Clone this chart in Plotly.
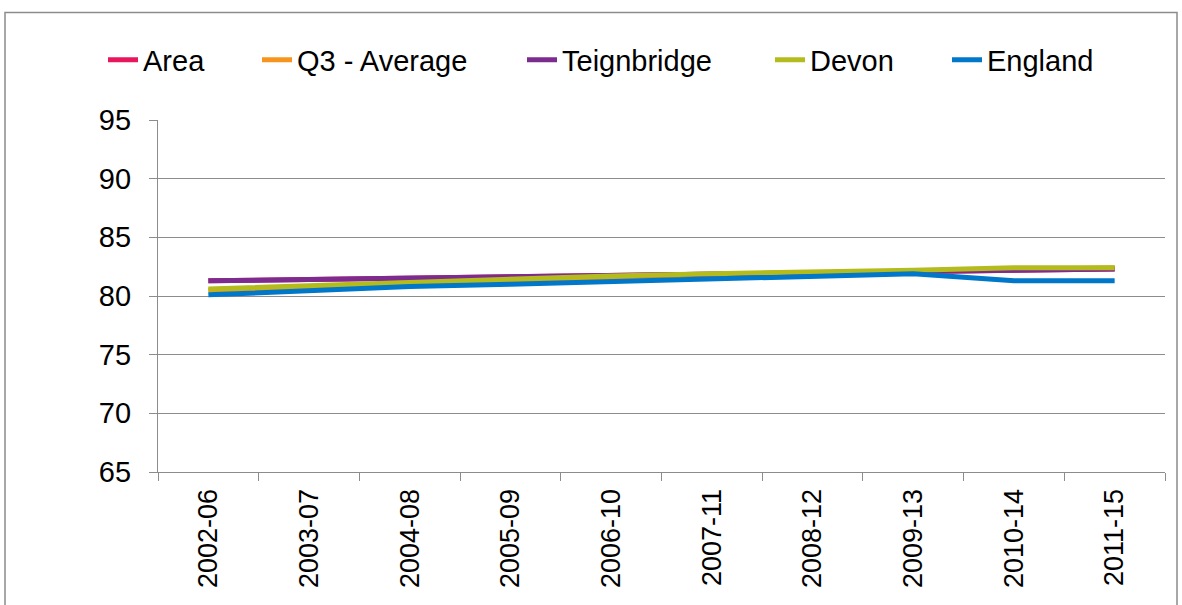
import plotly.graph_objects as go

categories = ["2002-06", "2003-07", "2004-08", "2005-09", "2006-10",
              "2007-11", "2008-12", "2009-13", "2010-14", "2011-15"]
area = [81.3, 81.4, 81.5, 81.7, 81.8, 81.9, 82.0, 82.1, 82.2, 82.3]
q3_average = [80.5, 80.8, 81.0, 81.2, 81.5, 81.7, 81.9, 82.1, 82.3, 82.4]
teignbridge = [81.3, 81.4, 81.5, 81.7, 81.8, 81.9, 82.0, 82.1, 82.2, 82.3]
devon = [80.6, 80.9, 81.1, 81.4, 81.7, 81.9, 82.0, 82.2, 82.4, 82.4]
england = [80.1, 80.5, 80.8, 81.0, 81.2, 81.4, 81.7, 81.9, 81.3, 81.3]

y_ticks = [65, 70, 75, 80, 85, 90, 95]

series = [
    ("Area", area, "#E8175D"),
    ("Q3 - Average", q3_average, "#F7941D"),
    ("Teignbridge", teignbridge, "#7B2C8E"),
    ("Devon", devon, "#B3BC1C"),
    ("England", england, "#0077C8"),
]

FONT = "Liberation Sans, Arial, sans-serif"
GRID = "#8C8C8C"

W, H = 1182, 605
L, R, T, B = 158, 17, 120, 133
pw, ph = W - L - R, H - T - B

# text start pixel of each legend entry
legend_text_x = [143, 297, 562, 810, 987]
LEGEND_Y = 60

fig = go.Figure()
legends = {}
for i, (name, vals, col) in enumerate(series):
    key = "legend" if i == 0 else f"legend{i + 1}"
    fig.add_trace(go.Scatter(x=categories, y=vals, name=name, mode="lines",
                             line=dict(color=col, width=5), legend=key))
    legends[key] = dict(orientation="h", x=(legend_text_x[i] - 40 - L) / pw,
                        xanchor="left", y=(H - B - LEGEND_Y) / ph, yanchor="middle",
                        font=dict(size=29, family=FONT), bgcolor="rgba(0,0,0,0)",
                        borderwidth=0)

fig.update_layout(
    width=W, height=H,
    margin=dict(l=L, r=R, t=T, b=B),
    paper_bgcolor="white", plot_bgcolor="white",
    font=dict(family=FONT, size=27, color="black"),
    showlegend=True,
    xaxis=dict(type="category", showgrid=False, showline=True, linecolor=GRID,
               linewidth=1.3, ticks="outside", ticklen=8, tickcolor=GRID,
               tickson="boundaries", tickangle=-90, tickfont=dict(size=27),
               ticklabelstandoff=5,
               range=[-0.5, len(categories) - 0.5]),
    yaxis=dict(range=[65, 95], tickvals=y_ticks, showgrid=True, gridcolor=GRID,
               gridwidth=1.3, showline=True, linecolor=GRID, linewidth=1.3,
               ticks="outside", ticklen=8, tickcolor=GRID, tickfont=dict(size=29),
               ticklabelstandoff=12, zeroline=False),
    shapes=[dict(type="rect", xref="paper", yref="paper",
                 x0=(5 - L) / pw, x1=(1177 - L) / pw,
                 y0=(H - B - 640) / ph, y1=(H - B - 12.5) / ph,
                 line=dict(color="#8C8C8C", width=1.5), fillcolor="rgba(0,0,0,0)",
                 layer="below")],
)
fig.update_layout(**legends)

fig.write_html("out.html", config={"displayModeBar": False},
               post_script="document.body.style.margin='0';document.body.style.overflow='hidden';")
